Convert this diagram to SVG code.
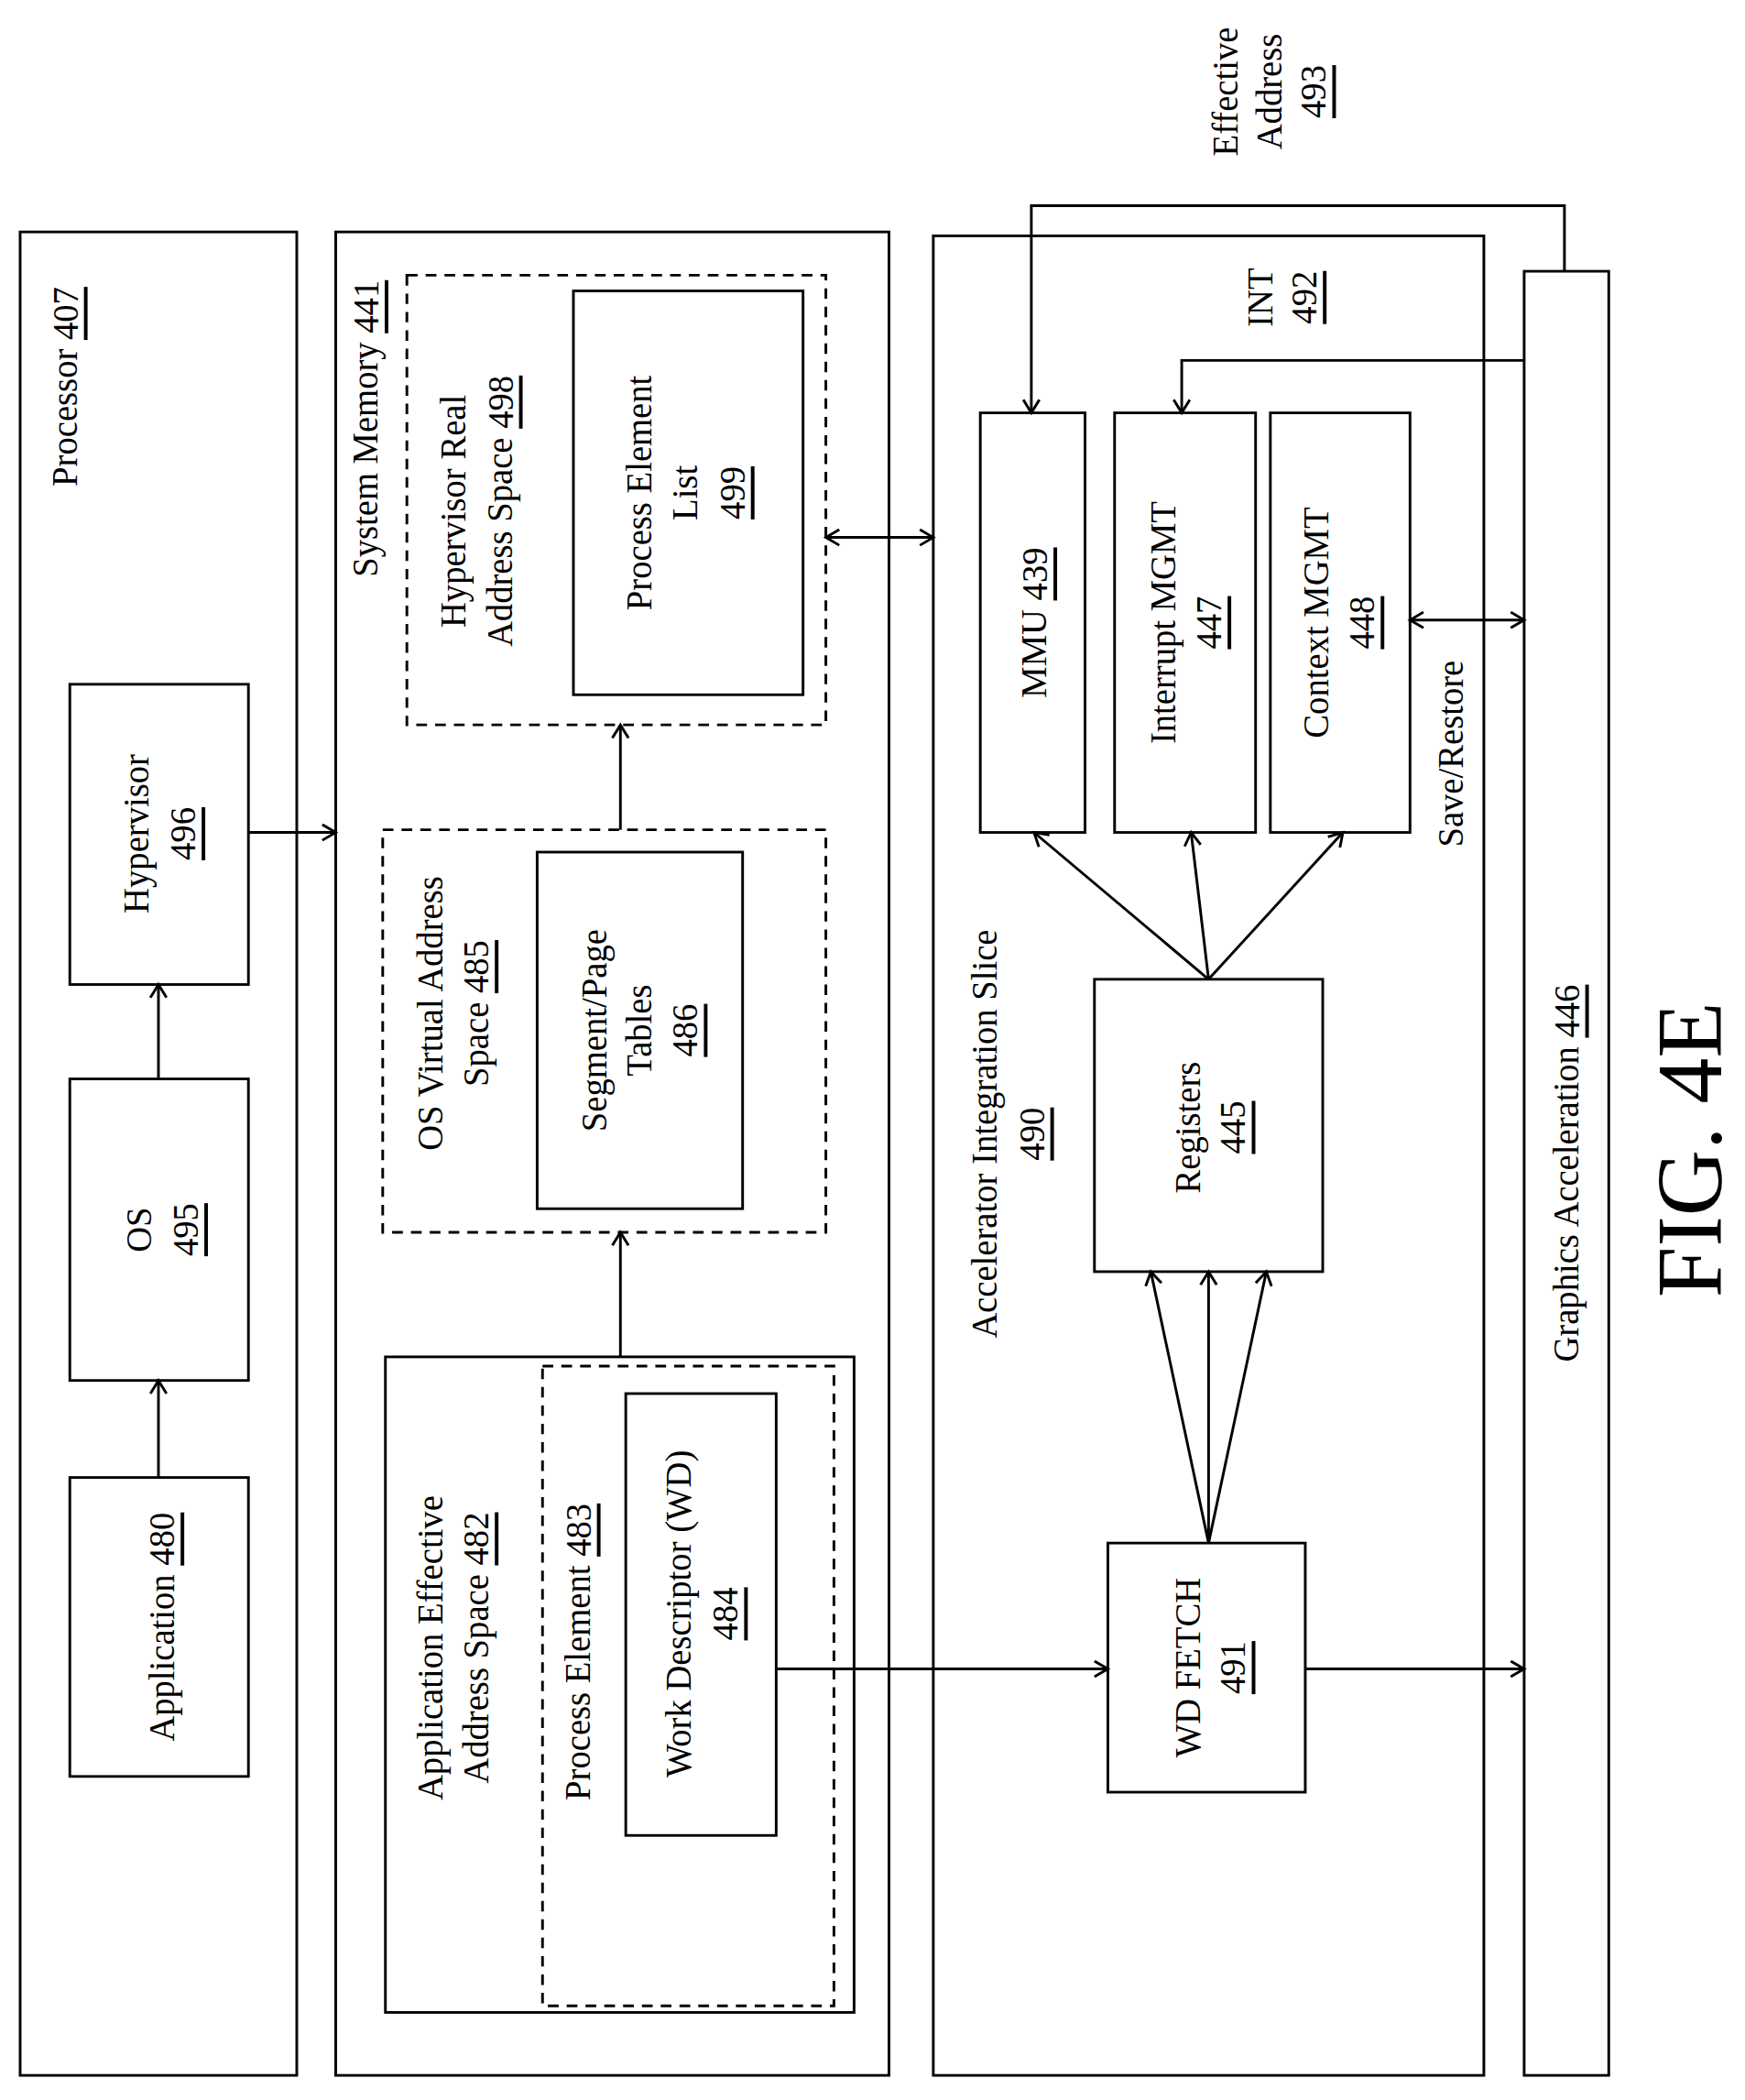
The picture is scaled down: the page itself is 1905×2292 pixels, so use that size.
<svg xmlns="http://www.w3.org/2000/svg" width="1905" height="2292" viewBox="0 0 1905 2292">
<style>
rect{fill:none;stroke:#000;stroke-width:2}
.d{stroke-dasharray:8 6}
text{font-family:"Liberation Serif",serif;font-size:27px;fill:#000;text-anchor:middle;dominant-baseline:central}
.u{text-decoration:underline}
line,polyline{stroke:#000;stroke-width:2;fill:none}
.a{marker-end:url(#ah)}
.b{marker-start:url(#ahs);marker-end:url(#ah)}
</style>
<defs>
<marker id="ah" markerWidth="14" markerHeight="14" refX="12" refY="7" orient="auto" markerUnits="userSpaceOnUse"><polyline points="2,1 12,7 2,13" style="stroke:#000;stroke-width:2;fill:none"/></marker>
<marker id="ahs" markerWidth="14" markerHeight="14" refX="2" refY="7" orient="auto" markerUnits="userSpaceOnUse"><polyline points="12,1 2,7 12,13" style="stroke:#000;stroke-width:2;fill:none"/></marker>
</defs>
<rect x="0" y="0" width="1905" height="2292" style="fill:#fff;stroke:none"/>
<g transform="matrix(1.466 0 0 1.431 0 7)">
<g id="processor"><rect x="15" y="172" width="206" height="1406"/><text x="48" y="290" transform="rotate(-90 48 290)">Processor <tspan class="u">407</tspan></text></g>
<g id="application"><rect x="52" y="1122" width="133" height="228"/><text x="120" y="1236" transform="rotate(-90 120 1236)">Application <tspan class="u">480</tspan></text></g>
<g id="os"><rect x="52" y="818" width="133" height="230"/><text x="103" y="933" transform="rotate(-90 103 933)">OS</text><text x="138" y="933" transform="rotate(-90 138 933)" class="u">495</text></g>
<g id="hypervisor"><rect x="52" y="517" width="133" height="229"/><text x="101" y="631" transform="rotate(-90 101 631)">Hypervisor</text><text x="136" y="631" transform="rotate(-90 136 631)" class="u">496</text></g>
<g id="sysmem"><rect x="250" y="172" width="412" height="1406"/><text x="272" y="322" transform="rotate(-90 272 322)">System Memory <tspan class="u">441</tspan></text></g>
<g id="hras"><rect class="d" x="303" y="205" width="312" height="343"/><text x="337" y="385" transform="rotate(-90 337 385)">Hypervisor Real</text><text x="372" y="385" transform="rotate(-90 372 385)">Address Space <tspan class="u">498</tspan></text></g>
<g id="pel"><rect x="427" y="217" width="171" height="308"/><text x="476" y="371" transform="rotate(-90 476 371)">Process Element</text><text x="510" y="371" transform="rotate(-90 510 371)">List</text><text x="545" y="371" transform="rotate(-90 545 371)" class="u">499</text></g>
<g id="osvas"><rect class="d" x="285" y="628" width="330" height="307"/><text x="320" y="768" transform="rotate(-90 320 768)">OS Virtual Address</text><text x="354" y="768" transform="rotate(-90 354 768)">Space <tspan class="u">485</tspan></text></g>
<g id="spt"><rect x="400" y="645" width="153" height="272"/><text x="442" y="781" transform="rotate(-90 442 781)">Segment/Page</text><text x="476" y="781" transform="rotate(-90 476 781)">Tables</text><text x="510" y="781" transform="rotate(-90 510 781)" class="u">486</text></g>
<g id="aeas"><rect x="287" y="1030" width="349" height="500"/><text x="320" y="1252" transform="rotate(-90 320 1252)">Application Effective</text><text x="354" y="1252" transform="rotate(-90 354 1252)">Address Space <tspan class="u">482</tspan></text></g>
<g id="pe"><rect class="d" x="404" y="1037" width="217" height="488"/><text x="430" y="1255" transform="rotate(-90 430 1255)">Process Element <tspan class="u">483</tspan></text></g>
<g id="wd"><rect x="466" y="1058" width="112" height="337"/><text x="505" y="1226" transform="rotate(-90 505 1226)">Work Descriptor (WD)</text><text x="540" y="1226" transform="rotate(-90 540 1226)" class="u">484</text></g>
<g id="ais"><rect x="695" y="175" width="410" height="1403"/><text x="733" y="860" transform="rotate(-90 733 860)">Accelerator Integration Slice</text><text x="768" y="860" transform="rotate(-90 768 860)" class="u">490</text></g>
<g id="mmu"><rect x="730" y="310" width="78" height="320"/><text x="770" y="470" transform="rotate(-90 770 470)">MMU <tspan class="u">439</tspan></text></g>
<g id="intmgmt"><rect x="830" y="310" width="105" height="320"/><text x="866" y="470" transform="rotate(-90 866 470)">Interrupt MGMT</text><text x="900" y="470" transform="rotate(-90 900 470)" class="u">447</text></g>
<g id="ctxmgmt"><rect x="946" y="310" width="104" height="320"/><text x="980" y="470" transform="rotate(-90 980 470)">Context MGMT</text><text x="1014" y="470" transform="rotate(-90 1014 470)" class="u">448</text></g>
<g id="registers"><rect x="815" y="742" width="170" height="223"/><text x="884" y="855" transform="rotate(-90 884 855)">Registers</text><text x="918" y="855" transform="rotate(-90 918 855)" class="u">445</text></g>
<g id="wdfetch"><rect x="825" y="1172" width="147" height="190"/><text x="884" y="1267" transform="rotate(-90 884 1267)">WD FETCH</text><text x="918" y="1267" transform="rotate(-90 918 1267)" class="u">491</text></g>
<g id="graphics"><rect x="1135" y="202" width="63" height="1376"/><text x="1166" y="890" transform="rotate(-90 1166 890)">Graphics Acceleration <tspan class="u">446</tspan></text></g>
<g id="labels">
<text x="912" y="65" transform="rotate(-90 912 65)">Effective</text>
<text x="945" y="65" transform="rotate(-90 945 65)">Address</text>
<text x="978" y="65" transform="rotate(-90 978 65)" class="u">493</text>
<text x="938" y="222" transform="rotate(-90 938 222)">INT</text>
<text x="971" y="222" transform="rotate(-90 971 222)" class="u">492</text>
<text x="1080" y="570" transform="rotate(-90 1080 570)">Save/Restore</text>
<text x="1258" y="872" transform="rotate(-90 1258 872)" style="font-size:70px">FIG. 4E</text>
</g>
<g id="connectors">
<line class="a" x1="118" y1="1122" x2="118" y2="1048"/>
<line class="a" x1="118" y1="818" x2="118" y2="746"/>
<line class="a" x1="185" y1="630" x2="250" y2="630"/>
<line class="a" x1="462" y1="628" x2="462" y2="548"/>
<line class="a" x1="462" y1="1030" x2="462" y2="935"/>
<line class="b" x1="615" y1="405" x2="695" y2="405"/>
<line class="a" x1="578" y1="1268" x2="825" y2="1268"/>
<line class="a" x1="972" y1="1268" x2="1135" y2="1268"/>
<line class="a" x1="900" y1="742" x2="770" y2="630"/>
<line class="a" x1="900" y1="742" x2="887" y2="630"/>
<line class="a" x1="900" y1="742" x2="1000" y2="630"/>
<line class="a" x1="900" y1="1172" x2="857" y2="965"/>
<line class="a" x1="900" y1="1172" x2="900" y2="965"/>
<line class="a" x1="900" y1="1172" x2="943" y2="965"/>
<polyline class="a" points="1165,202 1165,152 768,152 768,310"/>
<polyline class="a" points="1135,270 880,270 880,310"/>
<line class="b" x1="1050" y1="468" x2="1135" y2="468"/>
</g>
</g>
</svg>
